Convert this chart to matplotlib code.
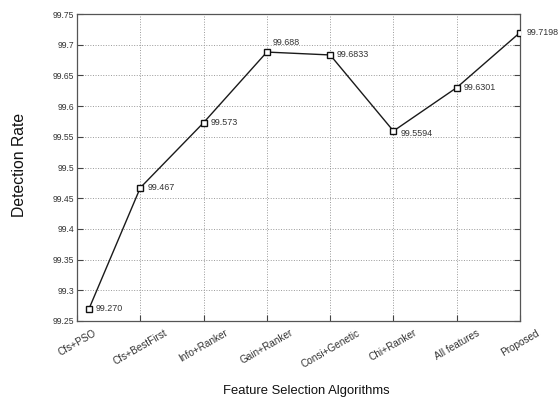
import matplotlib
matplotlib.use("Agg")
import matplotlib.pyplot as plt

plt.rcParams['font.family'] = ['Liberation Sans', 'DejaVu Sans']

categories = ['Cfs+PSO', 'Cfs+BestFirst', 'Info+Ranker', 'Gain+Ranker',
              'Consi+Genetic', 'Chi+Ranker', 'All features', 'Proposed']
x_pos = [1.19, 2, 3, 4, 5, 6, 7, 8]
values = [99.270, 99.467, 99.573, 99.688, 99.6833, 99.5594, 99.6301, 99.7198]
value_labels = ['99.270', '99.467', '99.573', '99.688', '99.6833', '99.5594', '99.6301', '99.7198']
y_ticks = [99.25, 99.3, 99.35, 99.4, 99.45, 99.5, 99.55, 99.6, 99.65, 99.7, 99.75]
y_tick_labels = ['99.25', '99.3', '99.35', '99.4', '99.45', '99.5', '99.55', '99.6', '99.65', '99.7', '99.75']

fig = plt.figure(figsize=(5.58, 4.0), dpi=100)
ax = fig.add_axes([77/558, 79/400, 443/558, 307/400])

ax.plot(x_pos, values, color='#1a1a1a', lw=1.0, marker='s', markersize=4.5,
        mfc='white', mec='#111111', mew=1.0, zorder=3)

offsets = [(5, 0), (5, 0), (5, 0), (4, 7), (5, 0), (5, -2), (5, 0), (5, 0)]
for xp, v, lab, off in zip(x_pos, values, value_labels, offsets):
    ax.annotate(lab, (xp, v), xytext=off, textcoords='offset points',
                ha='left', va='center', fontsize=6.4, color='#333333')

ax.set_xlim(1, 8)
ax.set_ylim(99.25, 99.75)
ax.set_xticks(range(1, 9))
ax.set_xticklabels(categories, rotation=30, ha='center', fontsize=7.2, color='#333333')
ax.set_yticks(y_ticks)
ax.set_yticklabels(y_tick_labels, fontsize=6.2, color='#333333')
ax.tick_params(direction='in', length=4, width=0.8, color='#444444', top=False, right=True, pad=2)
ax.tick_params(axis='x', pad=5)

ax.grid(True, linestyle=':', color='#999999', lw=0.7)
for s in ax.spines.values():
    s.set_color('#555555')
    s.set_linewidth(0.9)

ax.set_ylabel('Detection Rate', fontsize=11.3, color='#111111')
ax.yaxis.set_label_coords((20 - 77) / 443, (400 - 165 - 79) / 307)
ax.set_xlabel('Feature Selection Algorithms', fontsize=9.4, color='#111111')
ax.xaxis.set_label_coords((306 - 77) / 443, (400 - 391 - 79) / 307)
ax.xaxis.label.set_va('center')
ax.yaxis.label.set_va('center')

fig.savefig('out.png', dpi=100)
